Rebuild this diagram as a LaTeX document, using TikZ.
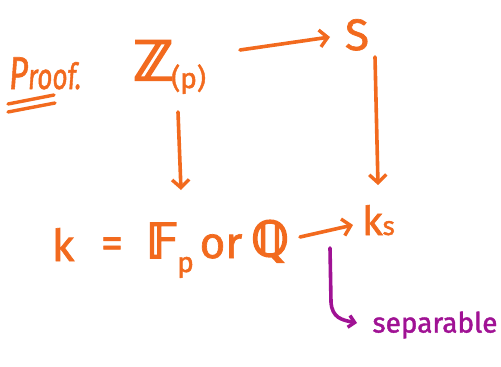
\documentclass[tikz,border=0pt]{standalone}
\usepackage{fontspec}
\setmainfont{Fira Sans}
\newfontfamily\hwfont[FakeBold=1.5]{Fira Sans}
\newfontfamily\hwitfont[FakeBold=1.5,FakeSlant=0.1]{Fira Sans}
\newfontfamily\bbfont[FakeBold=4]{DejaVu Sans}
\usetikzlibrary{arrows.meta}
\definecolor{hor}{RGB}{242,106,30}
\definecolor{hpu}{RGB}{160,18,148}
\tikzset{
  lbl/.style={text=hor, inner sep=0pt, font=\fontsize{44}{50}\selectfont\hwfont},
  bblbl/.style={text=hor, inner sep=0pt, font=\fontsize{48}{54}\selectfont\bbfont},
  plbl/.style={text=hpu, inner sep=0pt, font=\fontsize{28}{30}\selectfont\hwfont},
  arr/.style={draw=hor, line width=3.6pt, line cap=round, line join=round,
    -{Straight Barb[length=8pt,width=17pt,line width=3.4pt]}},
  parr/.style={draw=hpu, line width=3.6pt, line cap=round, line join=round,
    -{Straight Barb[length=6pt,width=12pt,line width=3.4pt]}},
  uline/.style={draw=hor, line width=3.4pt, line cap=round}
}
\begin{document}
\begin{tikzpicture}[x=1pt,y=-1pt]
\useasboundingbox (0,0) rectangle (501,367);
% top row
\node[lbl, font=\fontsize{36}{40}\selectfont\hwitfont, anchor=base west, xscale=0.72] (proof) at (8,89) {{\fontsize{46}{50}\selectfont P}roof.};
\coordinate (u1a) at (8,104); \coordinate (u1b) at (54,95);
\coordinate (u2a) at (8,112); \coordinate (u2b) at (55,103);
\draw[uline] (u1a) -- (u1b);
\draw[uline] (u2a) -- (u2b);
\node[bblbl, font=\fontsize{54}{60}\selectfont\bbfont, anchor=base west] (Z) at (133,80) {ℤ};
\node[lbl, font=\fontsize{28}{30}\selectfont\hwfont, anchor=base west] (p1) at (171,88) {(p)};
\node[lbl, anchor=base] (S) at (357,50) {S};
% bottom row
\node[lbl, anchor=base] (k) at (63,261) {k};
\node[lbl, anchor=base] (eq) at (112,258) {=};
\node[bblbl, anchor=base west] (F) at (146,258) {𝔽};
\node[lbl, font=\fontsize{28}{30}\selectfont\hwfont, anchor=base west] (p2) at (177,272) {p};
\node[lbl, anchor=base] (or) at (221,258) {or};
\node[bblbl, anchor=base] (Q) at (270,256) {ℚ};
\node[lbl, font=\fontsize{40}{44}\selectfont\hwfont, anchor=base west] (ks) at (362,235) {k\kern0pt{\fontsize{26}{30}\selectfont s}};
% arrow ends
\coordinate (zr) at (240,50); \coordinate (sl) at (330,37);
\coordinate (zd) at (178,112); \coordinate (fu) at (181,190);
\coordinate (sd) at (375,57); \coordinate (ku) at (378,185);
\coordinate (qr) at (300,237); \coordinate (kl) at (353,225);
\draw[arr] (zr) -- (sl);
\draw[arr] (zd) -- (fu);
\draw[arr] (sd) -- (ku);
\draw[arr] (qr) -- (kl);
% separable
\node[plbl] (sep) at (435,325) {separable};
\coordinate (pstart) at (330,248);
\draw[parr] (pstart) -- (331,302) .. controls (332,318) and (342,320) .. (357,323);
\end{tikzpicture}
\end{document}
